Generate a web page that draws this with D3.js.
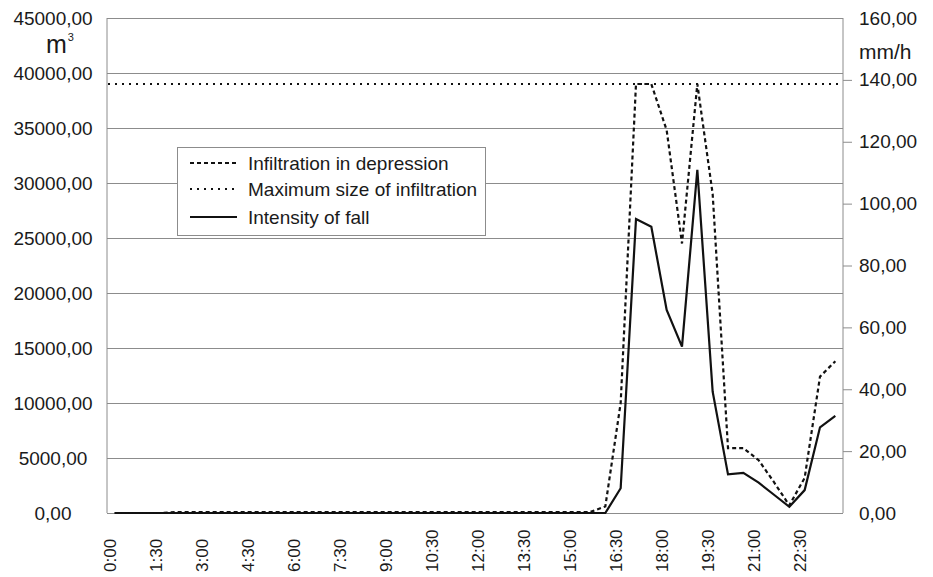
<!DOCTYPE html>
<html>
<head>
<meta charset="utf-8">
<script src="https://cdn.jsdelivr.net/npm/d3@7/dist/d3.min.js"></script>
<style>
  html, body { margin: 0; padding: 0; background: #fff; }
  svg { display: block; font-family: "Liberation Sans", Arial, sans-serif; }
</style>
</head>
<body>
<svg id="chart" width="933" height="577"></svg>
<script>
// ---------- data ----------
const times = ["0:00","0:30","1:00","1:30","2:00","2:30","3:00","3:30","4:00","4:30","5:00","5:30",
  "6:00","6:30","7:00","7:30","8:00","8:30","9:00","9:30","10:00","10:30","11:00","11:30",
  "12:00","12:30","13:00","13:30","14:00","14:30","15:00","15:30","16:00","16:30","17:00","17:30",
  "18:00","18:30","19:00","19:30","20:00","20:30","21:00","21:30","22:00","22:30","23:00","23:30"];

// Infiltration in depression [m3] (left axis)
const infiltration = [0,0,0,0,80,80,80,80,80,80,80,80,
  80,80,80,80,80,80,80,80,80,80,80,80,
  80,80,80,80,80,80,80,80,600,10000,39000,39000,
  34800,24500,39000,29000,5900,5900,4800,2800,700,3200,12400,13800];

// Maximum size of infiltration [m3] (left axis)
const maxInfiltration = 39000;

// Intensity of fall [mm/h] (right axis)
const intensity = [0,0,0,0,0,0,0,0,0,0,0,0,
  0,0,0,0,0,0,0,0,0,0,0,0,
  0,0,0,0,0,0,0,0,0,8.0,95.0,92.5,
  65.6,53.8,110.9,39.2,12.5,13.0,9.8,5.9,2.0,7.4,27.7,31.4];

const leftTicks = [0,5000,10000,15000,20000,25000,30000,35000,40000,45000];
const rightTicks = [0,20,40,60,80,100,120,140,160];
const xLabelTimes = ["0:00","1:30","3:00","4:30","6:00","7:30","9:00","10:30","12:00",
  "13:30","15:00","16:30","18:00","19:30","21:00","22:30"];

const legendItems = [
  {label: "Infiltration in depression", dash: "4,3"},
  {label: "Maximum size of infiltration", dash: "2,5"},
  {label: "Intensity of fall", dash: null}
];

// ---------- layout ----------
const L = 107, R = 843, T = 18, B = 513;
const svg = d3.select("#chart");
const fmt = d3.formatLocale({decimal: ",", thousands: "", grouping: [3], currency: ["", ""]}).format(".2f");

const x = d3.scaleBand().domain(times).range([L, R]).paddingInner(0).paddingOuter(0);
const xc = t => x(t) + x.bandwidth() / 2;
const yL = d3.scaleLinear().domain([0, 45000]).range([B, T]);
const yR = d3.scaleLinear().domain([0, 160]).range([B, T]);

const grid = "#8c8c8c";

// gridlines
svg.append("g")
  .attr("transform", `translate(${L},0)`)
  .call(d3.axisLeft(yL).tickValues(leftTicks).tickSize(-(R - L)).tickFormat(""))
  .call(g => g.select(".domain").remove())
  .call(g => g.selectAll("line").attr("stroke", grid).attr("stroke-width", 1));

// plot side borders
svg.append("line").attr("x1", L).attr("x2", L).attr("y1", T).attr("y2", B)
  .attr("stroke", grid).attr("stroke-width", 1);
svg.append("line").attr("x1", R).attr("x2", R).attr("y1", T).attr("y2", B)
  .attr("stroke", grid).attr("stroke-width", 1);

// left axis labels
svg.append("g")
  .attr("transform", `translate(${L},0)`)
  .call(d3.axisLeft(yL).tickValues(leftTicks).tickSize(0).tickFormat(fmt))
  .call(g => g.select(".domain").remove())
  .call(g => g.selectAll("text")
    .attr("x", 53 - L).attr("text-anchor", "middle")
    .attr("font-size", 19).attr("fill", "#1a1a1a")
    .attr("font-family", "Liberation Sans, Arial, sans-serif"));

// right axis
svg.append("g")
  .attr("transform", `translate(${R},0)`)
  .call(d3.axisRight(yR).tickValues(rightTicks).tickSize(9).tickPadding(7).tickFormat(fmt))
  .call(g => g.select(".domain").remove())
  .call(g => g.selectAll("line").attr("stroke", grid))
  .call(g => g.selectAll(".tick").filter(d => d === 160 || d === 0).select("line").remove())
  .call(g => g.selectAll("text")
    .attr("font-size", 19).attr("fill", "#1a1a1a")
    .attr("font-family", "Liberation Sans, Arial, sans-serif"));

// axis units
const mt = svg.append("text").attr("x", 46).attr("y", 53)
  .attr("font-size", 25).attr("fill", "#1a1a1a");
mt.append("tspan").text("m");
mt.append("tspan").attr("font-size", 11).attr("dx", 1).attr("dy", -12).text("3");
svg.append("text").attr("x", 859).attr("y", 59)
  .attr("font-size", 21).attr("fill", "#1a1a1a").text("mm/h");

// x axis labels
svg.append("g")
  .attr("transform", `translate(0,${B})`)
  .call(d3.axisBottom(x).tickValues(xLabelTimes).tickSize(0).tickFormat(d => d))
  .call(g => g.select(".domain").remove())
  .call(g => g.selectAll(".tick").attr("transform", d => `translate(${xc(d) - 4.5},0)`))
  .call(g => g.selectAll("text")
    .attr("transform", "translate(0,59) rotate(-90)")
    .attr("x", 0).attr("y", 0).attr("dy", "0.35em")
    .attr("text-anchor", "start")
    .attr("font-size", 17).attr("fill", "#1a1a1a")
    .attr("font-family", "Liberation Sans, Arial, sans-serif"));

// max infiltration line (full width)
svg.append("line")
  .attr("x1", x.range()[0] + 1).attr("x2", x.range()[1] - 2)
  .attr("y1", yL(maxInfiltration)).attr("y2", yL(maxInfiltration))
  .attr("stroke", "#111").attr("stroke-width", 2.2).attr("stroke-dasharray", "2,5");

// intensity of fall (solid, right axis)
svg.append("path")
  .datum(intensity)
  .attr("fill", "none").attr("stroke", "#111").attr("stroke-width", 2.2)
  .attr("stroke-linejoin", "miter")
  .attr("d", d3.line().x((d, i) => xc(times[i])).y(d => yR(d)));

// infiltration in depression (dashed, left axis)
svg.append("path")
  .datum(infiltration)
  .attr("fill", "none").attr("stroke", "#111").attr("stroke-width", 2.2)
  .attr("stroke-dasharray", "4,3")
  .attr("d", d3.line().x((d, i) => xc(times[i])).y(d => yL(d)));

// legend
const lg = svg.append("g");
lg.append("rect").attr("x", 177.5).attr("y", 147.5).attr("width", 308).attr("height", 88)
  .attr("fill", "#fff").attr("stroke", "#8c8c8c").attr("stroke-width", 1);
const rowY = [163, 189, 217];
legendItems.forEach((it, i) => {
  const ln = lg.append("line").attr("x1", 190).attr("x2", 237)
    .attr("y1", rowY[i]).attr("y2", rowY[i])
    .attr("stroke", "#111").attr("stroke-width", 2.2);
  if (it.dash) ln.attr("stroke-dasharray", it.dash);
  lg.append("text").attr("x", 248).attr("y", rowY[i]).attr("dy", "0.36em")
    .attr("font-size", 19).attr("fill", "#1a1a1a").text(it.label);
});
</script>
</body>
</html>
